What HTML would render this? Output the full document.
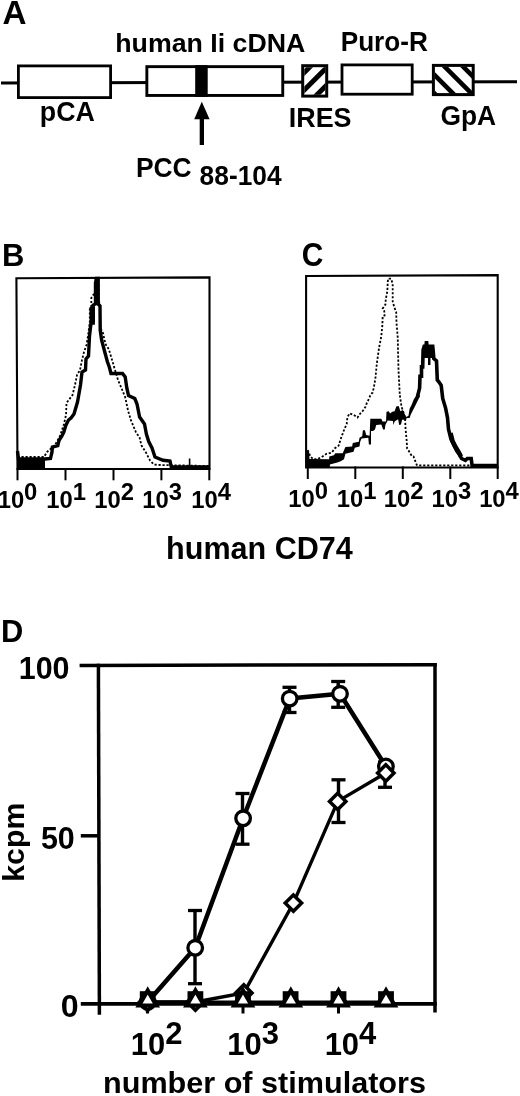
<!DOCTYPE html>
<html><head><meta charset="utf-8"><title>Figure</title>
<style>html,body{margin:0;padding:0;background:#fff;width:520px;height:1096px;overflow:hidden}svg{display:block}</style>
</head><body><svg width="520" height="1096" viewBox="0 0 520 1096"><rect width="520" height="1096" fill="#fff"/><line x1="1" y1="83" x2="517" y2="81.7" stroke="#000" stroke-width="3"/><rect x="18.40" y="65.90" width="92.20" height="31.70" fill="#fff" stroke="#000" stroke-width="2.8"/><rect x="146.85" y="66.65" width="135.90" height="28.80" fill="#fff" stroke="#000" stroke-width="2.9"/><rect x="195.2" y="65.2" width="12.5" height="31.7" fill="#000"/><clipPath id="cI"><rect x="304.3" y="67.2" width="21" height="27.6"/></clipPath><rect x="302.70" y="65.70" width="24.00" height="30.40" fill="#fff" stroke="#000" stroke-width="3.0"/><g clip-path="url(#cI)" stroke="#000" stroke-width="4.9"><line x1="266.75" y1="110" x2="326.75" y2="50"/><line x1="284.25" y1="110" x2="344.25" y2="50"/><line x1="301.75" y1="110" x2="361.75" y2="50"/></g><rect x="342.00" y="64.90" width="70.20" height="29.30" fill="#fff" stroke="#000" stroke-width="2.8"/><clipPath id="cG"><rect x="434.9" y="66.9" width="37.1" height="26.5"/></clipPath><rect x="433.40" y="65.40" width="39.80" height="29.20" fill="#fff" stroke="#000" stroke-width="3.0"/><g clip-path="url(#cG)" stroke="#000" stroke-width="4.6"><line x1="391" y1="50" x2="451" y2="110"/><line x1="409.5" y1="50" x2="469.5" y2="110"/><line x1="428" y1="50" x2="488" y2="110"/><line x1="446.5" y1="50" x2="506.5" y2="110"/></g><polygon points="201.8,101.8 194.2,119.2 209.6,119.2" fill="#000"/><rect x="199.7" y="117" width="4.3" height="28" fill="#000"/><path d="M16.4 278.3 L209.5 277.4 L209.5 469 L17.5 469 Z" fill="none" stroke="#000" stroke-width="2.1"/><line x1="17.5" y1="468" x2="17.5" y2="480.3" stroke="#000" stroke-width="2"/><line x1="65.5" y1="468" x2="65.5" y2="480.3" stroke="#000" stroke-width="2"/><line x1="113.5" y1="468" x2="113.5" y2="480.3" stroke="#000" stroke-width="2"/><line x1="161.4" y1="468" x2="161.4" y2="480.3" stroke="#000" stroke-width="2"/><line x1="209.3" y1="468" x2="209.3" y2="480.3" stroke="#000" stroke-width="2"/><polyline points="17.5,457.0 44.0,457.0 47.0,452.0 55.0,445.0 60.0,436.0 64.0,424.0 66.0,415.0 66.5,403.0 72.5,395.0 75.0,385.0 77.0,375.0 80.0,370.0 82.0,360.0 84.0,352.0 86.5,345.0 88.0,336.0 89.8,322.0 89.8,308.0 91.3,306.0 91.3,298.0 95.2,292.0 95.5,280.0 97.0,279.0 98.5,285.0 98.8,300.0 100.0,306.0 100.5,328.0 103.0,333.0 104.5,340.0 106.0,345.0 108.8,349.2 111.7,358.8 115.0,370.0 118.0,380.0 121.3,387.7 125.2,397.3 128.1,410.8 131.0,420.4 135.8,431.9 139.6,437.7 141.5,445.4 146.3,453.1 150.2,460.8 154.0,464.6 160.8,465.0 209.0,466.0" fill="none" stroke="#000" stroke-width="1.8" stroke-dasharray="2.2 1.8"/><polyline points="17.5,451.0 18.5,459.0 45.0,459.0 50.5,458.4 52.0,452.0 52.4,447.0 57.8,445.6 59.1,440.2 61.8,436.2 63.8,432.1 65.8,425.4 68.5,420.0 71.0,418.0 74.0,414.0 77.5,402.0 80.5,385.0 82.0,372.0 85.5,370.0 86.0,359.0 88.5,356.0 89.5,336.0 91.0,323.0 93.2,323.0 93.2,305.0 95.5,304.0 95.5,283.0 96.5,278.5 98.2,278.5 98.2,304.0 100.0,306.0 100.2,330.0 101.6,340.0 104.5,351.0 107.4,361.7 109.3,367.0 111.0,373.5 122.5,373.5 125.2,377.0 126.8,388.0 128.5,395.5 134.8,398.5 137.0,404.0 139.6,417.0 144.5,424.0 146.4,434.0 148.7,441.5 152.0,448.0 155.0,457.0 163.0,460.3 170.0,461.0 171.3,467.0 209.0,467.0" fill="none" stroke="#000" stroke-width="3.4"/><rect x="17" y="458" width="28" height="10.5" fill="#000"/><rect x="95" y="278" width="3.8" height="26" fill="#000"/><rect x="89.5" y="307" width="5.5" height="15" fill="#000"/><line x1="189.6" y1="468" x2="189.6" y2="458.5" stroke="#000" stroke-width="1.6"/><path d="M306.1 276 L497.7 275.1 L497.7 467.5 L306.1 467.5 Z" fill="none" stroke="#000" stroke-width="2.1"/><line x1="307.8" y1="466.5" x2="307.8" y2="479" stroke="#000" stroke-width="2"/><line x1="355.3" y1="466.5" x2="355.3" y2="479" stroke="#000" stroke-width="2"/><line x1="402.8" y1="466.5" x2="402.8" y2="479" stroke="#000" stroke-width="2"/><line x1="450.3" y1="466.5" x2="450.3" y2="479" stroke="#000" stroke-width="2"/><line x1="497.7" y1="466.5" x2="497.7" y2="479" stroke="#000" stroke-width="2"/><polyline points="307.7,450.0 310.4,456.5 313.1,459.2 317.1,459.2 322.5,456.5 326.5,453.8 331.9,452.5 334.6,448.5 338.6,445.8 340.7,439.0 342.7,433.6 344.7,428.3 346.7,424.2 347.4,417.5 349.4,413.5 353.5,414.8 357.5,417.5 360.2,413.5 362.9,410.8 365.6,406.7 366.9,402.7 368.9,399.0 370.4,395.0 372.5,392.7 373.8,387.7 375.4,378.5 376.9,363.0 379.2,347.0 381.2,336.9 382.3,326.2 382.7,316.2 384.6,315.4 384.2,310.8 382.7,308.5 385.4,304.6 385.8,299.2 387.3,291.5 387.7,283.1 388.0,278.7 391.0,278.7 392.7,283.8 392.7,301.5 394.2,306.9 396.2,312.3 396.5,323.1 397.7,336.9 398.5,370.0 399.8,395.0 401.5,406.5 403.8,413.5 405.0,418.1 405.6,429.6 406.7,441.2 407.1,448.5 408.7,450.8 411.9,456.2 413.5,456.5 416.7,464.8 417.3,465.3 472.0,465.5" fill="none" stroke="#000" stroke-width="1.8" stroke-dasharray="2.2 1.8"/><polygon points="307.0,451.0 309.0,451.0 309.5,459.0 329.2,459.2 329.2,456.5 333.9,455.2 335.3,453.2 342.7,453.2 345.4,447.1 352.1,446.4 352.8,443.1 358.8,441.7 359.5,437.7 362.2,436.3 362.9,430.3 364.9,430.3 366.2,435.0 369.6,435.7 370.3,418.8 381.3,418.7 382.5,421.5 386.0,421.5 386.5,411.7 388.8,411.2 390.0,413.5 392.3,411.7 394.6,411.2 396.3,406.5 398.7,406.0 400.4,411.2 402.7,410.0 406.2,416.9 408.5,415.8 409.6,408.8 411.9,404.2 413.7,399.6 416.5,395.0 418.0,392.0 420.0,396.2 417.7,400.8 415.4,405.4 413.1,410.0 410.8,414.6 409.6,418.1 406.7,418.1 406.2,419.8 402.1,419.8 401.0,424.4 399.2,425.0 398.1,419.2 394.6,421.5 393.5,425.0 392.9,421.0 387.7,420.4 385.4,425.0 384.8,429.6 383.1,429.6 381.3,424.4 376.2,425.0 375.0,429.6 373.0,431.0 371.0,431.0 371.0,444.4 368.9,444.4 368.3,437.7 361.5,438.4 360.2,441.7 359.5,446.4 354.8,447.8 353.5,451.8 345.4,453.8 344.0,459.2 340.7,461.2 337.3,462.6 329.9,464.6 329.9,467.0 307.0,467.0" fill="#000"/><polyline points="417.5,396.5 419.6,388.1 420.0,376.2 421.5,376.2 421.5,366.9 422.7,366.9 423.1,350.0 424.2,346.2 426.0,346.2 426.5,341.2 427.0,346.2 432.7,346.2 433.1,350.0 433.8,358.5 436.5,360.8 437.3,380.0 439.2,382.3 441.2,385.4 442.7,398.5 445.6,408.1 447.5,417.7 448.5,429.2 450.4,436.9 451.0,439.2 453.8,445.0 456.7,450.8 459.6,454.6 461.5,458.5 465.4,460.4 467.3,458.5 471.2,458.5 472.1,465.5 497.0,465.5" fill="none" stroke="#000" stroke-width="3.6"/><rect x="424" y="346" width="9" height="12" fill="#000"/><polyline points="450.5,433 452.5,441 455.5,447 458.5,452 461,456.5" fill="none" stroke="#000" stroke-width="4.6"/><rect x="428" y="356" width="2.5" height="9" fill="#000"/><g stroke="#000" stroke-width="3.5" fill="none"><line x1="79.6" y1="665.5" x2="436.8" y2="664.7"/><line x1="98.4" y1="663.8" x2="99.4" y2="1014.8"/><line x1="435" y1="662.9" x2="435" y2="1012.5"/><line x1="80.8" y1="1003.85" x2="436.8" y2="1003.85" stroke-width="3.9"/><line x1="80.8" y1="835.8" x2="99" y2="835.8"/><line x1="147.5" y1="1004" x2="147.5" y2="1013.5" stroke-width="3"/><line x1="243" y1="1004" x2="243" y2="1013.5" stroke-width="3"/><line x1="338.5" y1="1004" x2="338.5" y2="1013.5" stroke-width="3"/></g><line x1="147.7" y1="1002.3" x2="386" y2="1002.3" stroke="#000" stroke-width="3.8"/><polyline points="147.7,1002.0 195.4,1002.0 243.8,993.0 293.4,903.1 337.7,801.4 385.8,773.0" fill="none" stroke="#000" stroke-width="3.4"/><polyline points="147.7,1002.0 195.2,947.8 243.1,818.3 289.7,698.6 340.0,693.8 385.9,766.5" fill="none" stroke="#000" stroke-width="4.5" stroke-linejoin="round"/><line x1="195" y1="910.5" x2="195" y2="983.7" stroke="#000" stroke-width="3.4"/><line x1="188.0" y1="910.5" x2="202.0" y2="910.5" stroke="#000" stroke-width="3.3"/><line x1="188.0" y1="983.7" x2="202.0" y2="983.7" stroke="#000" stroke-width="3.3"/><line x1="242.5" y1="793.5" x2="242.5" y2="844.2" stroke="#000" stroke-width="3.4"/><line x1="235.5" y1="793.5" x2="249.5" y2="793.5" stroke="#000" stroke-width="3.3"/><line x1="235.5" y1="844.2" x2="249.5" y2="844.2" stroke="#000" stroke-width="3.3"/><line x1="289.5" y1="687.3" x2="289.5" y2="712.5" stroke="#000" stroke-width="3.4"/><line x1="282.5" y1="687.3" x2="296.5" y2="687.3" stroke="#000" stroke-width="3.3"/><line x1="282.5" y1="712.5" x2="296.5" y2="712.5" stroke="#000" stroke-width="3.3"/><line x1="338.2" y1="681.5" x2="338.2" y2="707.3" stroke="#000" stroke-width="3.4"/><line x1="331.2" y1="681.5" x2="345.2" y2="681.5" stroke="#000" stroke-width="3.3"/><line x1="331.2" y1="707.3" x2="345.2" y2="707.3" stroke="#000" stroke-width="3.3"/><line x1="338.5" y1="779.8" x2="338.5" y2="822.5" stroke="#000" stroke-width="3.4"/><line x1="331.5" y1="779.8" x2="345.5" y2="779.8" stroke="#000" stroke-width="3.3"/><line x1="331.5" y1="822.5" x2="345.5" y2="822.5" stroke="#000" stroke-width="3.3"/><line x1="385" y1="762" x2="385" y2="787.3" stroke="#000" stroke-width="3.4"/><line x1="378.0" y1="762" x2="392.0" y2="762" stroke="#000" stroke-width="3.3"/><line x1="378.0" y1="787.3" x2="392.0" y2="787.3" stroke="#000" stroke-width="3.3"/><line x1="147.5" y1="995" x2="147.5" y2="1012.5" stroke="#000" stroke-width="3.4"/><line x1="147.5" y1="995" x2="147.5" y2="995" stroke="#000" stroke-width="3.3"/><line x1="147.5" y1="1012.5" x2="147.5" y2="1012.5" stroke="#000" stroke-width="3.3"/><circle cx="147.7" cy="1002" r="7.3" fill="#fff" stroke="#000" stroke-width="3.3"/><circle cx="195.2" cy="947.8" r="7.3" fill="#fff" stroke="#000" stroke-width="3.3"/><circle cx="243.1" cy="818.3" r="7.3" fill="#fff" stroke="#000" stroke-width="3.3"/><circle cx="289.7" cy="698.6" r="7.3" fill="#fff" stroke="#000" stroke-width="3.3"/><circle cx="340" cy="693.8" r="7.3" fill="#fff" stroke="#000" stroke-width="3.3"/><circle cx="385.9" cy="766.5" r="7.3" fill="#fff" stroke="#000" stroke-width="3.3"/><path d="M147.7 993.8 L155.89999999999998 1002 L147.7 1010.2 L139.5 1002 Z" fill="#fff" stroke="#000" stroke-width="3.5"/><path d="M195.4 993.8 L203.6 1002 L195.4 1010.2 L187.20000000000002 1002 Z" fill="#fff" stroke="#000" stroke-width="3.5"/><path d="M243.8 984.8 L252.0 993 L243.8 1001.2 L235.60000000000002 993 Z" fill="#fff" stroke="#000" stroke-width="3.5"/><path d="M293.4 894.9 L301.59999999999997 903.1 L293.4 911.3000000000001 L285.2 903.1 Z" fill="#fff" stroke="#000" stroke-width="3.5"/><path d="M337.7 793.1999999999999 L345.9 801.4 L337.7 809.6 L329.5 801.4 Z" fill="#fff" stroke="#000" stroke-width="3.5"/><path d="M385.8 764.8 L394.0 773 L385.8 781.2 L377.6 773 Z" fill="#fff" stroke="#000" stroke-width="3.5"/><rect x="139.79999999999998" y="991.2" width="15.8" height="14" fill="#000"/><rect x="187.5" y="991.2" width="15.8" height="14" fill="#000"/><rect x="235.1" y="991.2" width="15.8" height="14" fill="#000"/><rect x="282.70000000000005" y="991.2" width="15.8" height="14" fill="#000"/><rect x="330.6" y="991.2" width="15.8" height="14" fill="#000"/><rect x="378.1" y="991.2" width="15.8" height="14" fill="#000"/><path d="M147.7 990.5 L139.0 1005.5 L156.39999999999998 1005.5 Z" fill="#fff" stroke="#000" stroke-width="4.2"/><path d="M195.4 990.5 L186.70000000000002 1005.5 L204.1 1005.5 Z" fill="#fff" stroke="#000" stroke-width="4.2"/><path d="M243 990.5 L234.3 1005.5 L251.7 1005.5 Z" fill="#fff" stroke="#000" stroke-width="4.2"/><path d="M290.8 990.5 L282.1 1005.5 L299.5 1005.5 Z" fill="#fff" stroke="#000" stroke-width="4.2"/><path d="M338.5 990.5 L329.8 1005.5 L347.2 1005.5 Z" fill="#fff" stroke="#000" stroke-width="4.2"/><path d="M386 990.5 L377.3 1005.5 L394.7 1005.5 Z" fill="#fff" stroke="#000" stroke-width="4.2"/><g font-family="'Liberation Sans', Arial, Helvetica, sans-serif" font-weight="bold" fill="#000"><text transform="translate(2.57 23.90) scale(1.0241 1)" font-size="32.50">A</text><text transform="translate(115.23 52.00) scale(1.0059 1)" font-size="26.60">human Ii cDNA</text><text transform="translate(340.70 50.60) scale(0.9690 1)" font-size="27.00">Puro-R</text><text transform="translate(39.86 120.70) scale(0.9848 1)" font-size="27.20">pCA</text><text transform="translate(288.75 127.40) scale(0.9784 1)" font-size="27.50">IRES</text><text transform="translate(440.45 124.50) scale(0.9690 1)" font-size="27.20">GpA</text><text transform="translate(135.88 176.80) scale(0.9671 1)" font-size="27.30">PCC</text><text transform="translate(199.61 185.40) scale(0.9789 1)" font-size="26.90">88-104</text><text transform="translate(1.89 266.00) scale(0.9652 1)" font-size="32.10">B</text><text transform="translate(301.70 266.20) scale(0.9264 1)" font-size="32.30">C</text><text transform="translate(0.89 641.70) scale(0.9624 1)" font-size="32.10">D</text><text transform="translate(166.06 558.90) scale(0.9926 1)" font-size="30.80">human CD74</text><text transform="translate(18.72 678.50) scale(0.9738 1)" font-size="31.30">100</text><text transform="translate(40.89 848.60) scale(0.9833 1)" font-size="31.00">50</text><text transform="translate(60.71 1016.60) scale(1.0424 1)" font-size="30.90">0</text><text transform="translate(103.01 1093.00) scale(1.0133 1)" font-size="30.20">number of stimulators</text><text transform="translate(23.8 881.82) rotate(-90) scale(1.0007 1)" font-size="30.30">kcpm</text><text x="-2.37" y="508.20" font-size="23.80">10<tspan dy="-8.20">0</tspan></text><text x="46.23" y="508.20" font-size="23.80">10<tspan dy="-8.20">1</tspan></text><text x="94.33" y="508.20" font-size="23.80">10<tspan dy="-8.20">2</tspan></text><text x="142.33" y="508.20" font-size="23.80">10<tspan dy="-8.20">3</tspan></text><text x="191.23" y="508.20" font-size="23.80">10<tspan dy="-8.20">4</tspan></text><text x="288.33" y="506.90" font-size="23.80">10<tspan dy="-7.70">0</tspan></text><text x="336.73" y="506.90" font-size="23.80">10<tspan dy="-7.70">1</tspan></text><text x="383.83" y="506.90" font-size="23.80">10<tspan dy="-7.70">2</tspan></text><text x="431.43" y="506.90" font-size="23.80">10<tspan dy="-7.70">3</tspan></text><text x="479.13" y="506.90" font-size="23.80">10<tspan dy="-7.70">4</tspan></text><text x="130.83" y="1054.60" font-size="31.00">10<tspan dy="-10.20">2</tspan></text><text x="227.23" y="1054.60" font-size="31.00">10<tspan dy="-10.20">3</tspan></text><text x="324.63" y="1054.60" font-size="31.00">10<tspan dy="-10.20">4</tspan></text></g></svg></body></html>
